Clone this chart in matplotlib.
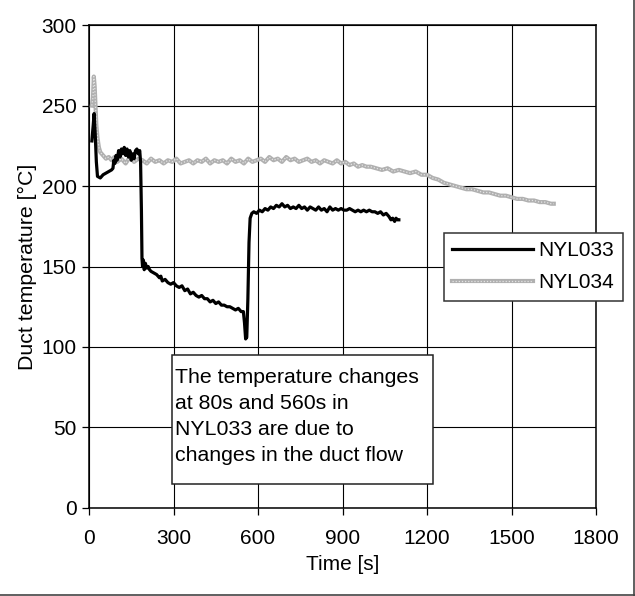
import matplotlib.pyplot as plt
from matplotlib.lines import Line2D
from matplotlib.patches import Rectangle

plt.rcParams['font.family'] = ['Liberation Sans', 'DejaVu Sans']
plt.rcParams['font.size'] = 15

# NYL033 - duct temperature (black)
t_033 = [10, 15, 18, 22, 26, 30, 40, 50, 60, 70, 80, 85, 88, 92, 96, 100,
         105, 110, 115, 120, 125, 130, 135, 140, 145, 150, 155, 160, 165,
         170, 175, 180, 183, 186, 188, 190, 193, 196, 200, 205, 210, 215,
         220, 230, 240, 250, 255, 260, 270, 280, 290, 300, 310, 320, 330,
         340, 350, 360, 370, 380, 390, 400, 410, 420, 430, 440, 450, 460,
         470, 480, 490, 500, 510, 520, 530, 540, 548, 552, 556, 560, 564,
         568, 572, 578, 585, 595, 605, 615, 625, 635, 645, 655, 665, 675,
         685, 695, 705, 715, 725, 735, 745, 755, 765, 775, 785, 795, 805,
         815, 825, 835, 845, 855, 865, 875, 885, 895, 905, 915, 925, 935,
         945, 955, 965, 975, 985, 995, 1005, 1015, 1025, 1035, 1045, 1055,
         1065, 1072, 1078, 1085, 1090, 1095, 1100]
temp_033 = [228, 238, 245, 232, 215, 206, 205, 207, 208, 209, 210, 211, 216,
            214, 219, 216, 222, 218, 223, 220, 224, 219, 223, 218, 222, 216,
            220, 217, 222, 223, 220, 222, 215, 185, 155, 150, 154, 148, 152,
            149, 150, 148, 147, 146, 145, 143, 144, 141, 142, 140, 139, 140,
            138, 137, 138, 135, 136, 133, 134, 132, 131, 132, 130, 130, 128,
            129, 127, 128, 126, 126, 125, 125, 124, 123, 124, 122, 122, 115,
            105, 106, 130, 165, 180, 183, 184, 183, 185, 184, 186, 185, 187,
            186, 188, 187, 189, 187, 188, 186, 187, 186, 188, 186, 187, 185,
            187, 186, 185, 187, 185, 186, 184, 187, 185, 186, 185, 186, 185,
            185, 186, 185, 184, 185, 184, 185, 184, 185, 184, 184, 183, 184,
            182, 183, 181, 179, 180, 178, 180, 179, 179]

# NYL034 - duct temperature (grey)
t_034 = [10, 14, 17, 20, 23, 26, 30, 35, 40, 50, 60, 70, 80, 90, 100, 115,
         130, 145, 160, 175, 190, 205, 220, 235, 250, 265, 280, 295, 310,
         325, 340, 355, 370, 385, 400, 415, 430, 445, 460, 475, 490, 505,
         520, 535, 550, 565, 580, 595, 610, 625, 640, 655, 670, 685, 700,
         715, 730, 745, 760, 775, 790, 805, 820, 835, 850, 865, 880, 895,
         910, 925, 940, 955, 970, 985, 1000, 1020, 1040, 1060, 1080, 1100,
         1120, 1140, 1160, 1180, 1200, 1220, 1240, 1260, 1280, 1300, 1320,
         1340, 1360, 1380, 1400, 1420, 1440, 1460, 1480, 1500, 1520, 1540,
         1560, 1580, 1600, 1620, 1640, 1650]
temp_034 = [250, 255, 268, 262, 250, 238, 230, 224, 221, 219, 217, 218, 216,
            218, 215, 217, 214, 218, 215, 217, 216, 214, 217, 215, 216, 214,
            216, 215, 217, 214, 215, 216, 214, 216, 215, 217, 214, 216, 215,
            216, 214, 217, 215, 216, 214, 217, 215, 216, 217, 215, 218, 216,
            217, 215, 218, 216, 217, 215, 216, 217, 215, 216, 214, 216, 215,
            214, 216, 214, 215, 213, 214, 212, 213, 212, 212, 211, 210, 211,
            209, 210, 209, 208, 209, 207, 207, 205, 204, 202, 201, 200, 199,
            198, 198, 197, 196, 196, 195, 194, 194, 193, 192, 192, 191, 191,
            190, 190, 189, 189]

x_ticks = [0, 300, 600, 900, 1200, 1500, 1800]
y_ticks = [0, 50, 100, 150, 200, 250, 300]
note = ('The temperature changes\nat 80s and 560s in\n'
        'NYL033 are due to\nchanges in the duct flow')

fig = plt.figure(figsize=(6.35, 5.96), dpi=100)
ax = fig.add_axes([0.1402, 0.1477, 0.7984, 0.8103])

# grey series drawn as a textured line: grey body with a light dotted core
g1, = ax.plot(t_034, temp_034, color='#b0b0b0', lw=3.0, zorder=3)
g2, = ax.plot(t_034, temp_034, color='#e4e4e4', lw=0.9, ls=(0, (1, 1.5)), zorder=3)
b1, = ax.plot(t_033, temp_033, color='black', lw=2.3, zorder=4)

ax.set_xlim(0, 1800)
ax.set_ylim(0, 300)
ax.set_xticks(x_ticks)
ax.set_yticks(y_ticks)
ax.grid(True, color='black', lw=0.8)
ax.tick_params(axis='x', direction='out', length=5, width=0.9, pad=10)
ax.tick_params(axis='y', direction='out', length=5, width=0.9, pad=4)
for s in ax.spines.values():
    s.set_linewidth(1.1)

ax.set_xlabel('Time [s]', labelpad=5)
ax.set_ylabel('Duct temperature [°C]', fontsize=15.3)
ax.yaxis.set_label_coords(-0.103, 0.5)

# legend box partly outside the plot area
leg = fig.legend([b1, (g1, g2)], ['NYL033', 'NYL034'], loc='upper left',
                 bbox_to_anchor=(0.699, 0.609), frameon=True, fancybox=False,
                 edgecolor='#333333', framealpha=1, handlelength=3.9,
                 handletextpad=0.25, borderpad=0.4, labelspacing=0.62,
                 borderaxespad=0)
leg.get_frame().set_linewidth(1.1)

# note box
fig.add_artist(Rectangle((0.2709, 0.1879), 0.411, 0.2165, transform=fig.transFigure,
                         facecolor='white', edgecolor='#222222', lw=1.1, zorder=5))
fig.text(0.2756, 0.3826, note, ha='left', va='top', linespacing=1.47,
         fontsize=15.3, zorder=6)

# frame lines at right and bottom of the image
fig.add_artist(Line2D([0.998, 0.998], [0, 1], color='#444444', lw=1.2))
fig.add_artist(Line2D([0, 1], [0.002, 0.002], color='#444444', lw=1.2))

fig.savefig('out.png', dpi=100)
